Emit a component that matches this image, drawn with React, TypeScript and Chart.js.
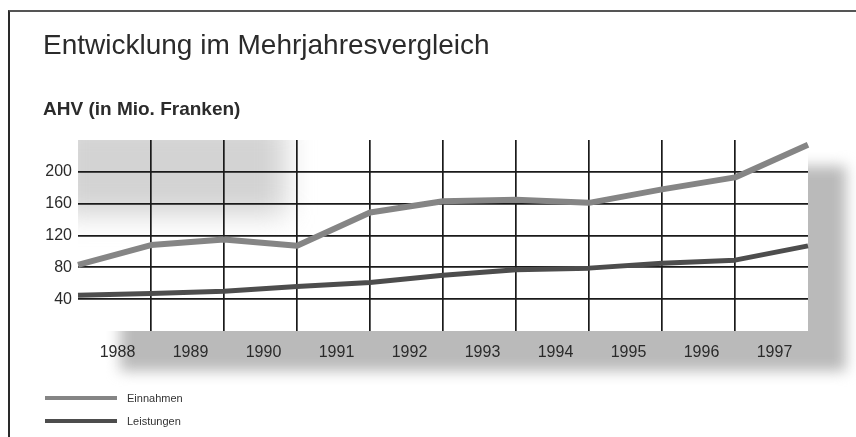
import React, { useEffect, useRef } from 'react';
import { Chart, registerables } from 'chart.js';

Chart.register(...registerables);

const chartTitle = 'Entwicklung im Mehrjahresvergleich';
const chartSubtitle = 'AHV (in Mio. Franken)';
const yearLabels = ['1988', '1989', '1990', '1991', '1992', '1993', '1994', '1995', '1996', '1997'];
const samplePoints = ['88', '89', '90', '91', '92', '93', '94', '95', '96', '97', '98'];
const seriesNames = ['Einnahmen', 'Leistungen'];
const einnahmen = [83, 108, 115, 107, 149, 163, 165, 161, 178, 193, 234];
const leistungen = [45, 47, 50, 56, 61, 70, 77, 79, 85, 89, 107];
const yTickValues = [40, 80, 120, 160, 200];
const yMin = 0;
const yMax = 240;
const seriesColors = ['#858585', '#4d4d4d'];
const seriesWidths = [6, 5];

const FONT = '"Liberation Sans", Arial, Helvetica, sans-serif';

const paperShadow = {
  id: 'paperShadow',
  beforeDraw(chart: any) {
    const { ctx, chartArea: a } = chart;
    ctx.save();
    ctx.filter = 'blur(7px)';
    ctx.fillStyle = '#bababa';
    ctx.fillRect(a.left + 42, a.top + 26, a.right - a.left - 4, a.bottom - a.top + 14);
    ctx.filter = 'none';
    ctx.fillStyle = '#ffffff';
    ctx.fillRect(a.left, a.top, a.right - a.left, a.bottom - a.top);
    ctx.beginPath();
    ctx.rect(a.left, a.top, a.right - a.left, a.bottom - a.top);
    ctx.clip();
    ctx.filter = 'blur(14px)';
    ctx.fillStyle = 'rgba(175,175,175,0.55)';
    ctx.fillRect(a.left - 20, a.top - 20, 228, 95);
    ctx.restore();
  },
};

export default function App() {
  const canvasRef = useRef<HTMLCanvasElement | null>(null);

  useEffect(() => {
    if (!canvasRef.current) return;
    const chart = new Chart(canvasRef.current, {
      type: 'line',
      data: {
        labels: samplePoints,
        datasets: [
          {
            label: seriesNames[0],
            data: einnahmen,
            borderColor: seriesColors[0],
            borderWidth: seriesWidths[0],
            pointRadius: 0,
            tension: 0,
            borderJoinStyle: 'round',
            xAxisID: 'x',
          },
          {
            label: seriesNames[1],
            data: leistungen,
            borderColor: seriesColors[1],
            borderWidth: seriesWidths[1],
            pointRadius: 0,
            tension: 0,
            borderJoinStyle: 'round',
            xAxisID: 'x',
          },
        ],
      },
      options: {
        responsive: false,
        animation: false,
        layout: { padding: { left: 8, right: 48, top: 140, bottom: 70 } },
        plugins: {
          legend: { display: false },
          tooltip: { enabled: false },
          title: { display: false },
        },
        scales: {
          x: {
            type: 'category',
            position: 'bottom',
            offset: false,
            border: { display: false },
            grid: {
              drawTicks: false,
              lineWidth: 1.7,
              color: (c: any) =>
                c.index === 0 || c.index === samplePoints.length - 1 ? 'rgba(0,0,0,0)' : '#1a1a1a',
            },
            ticks: { display: false },
            afterFit: (s: any) => {
              s.height = 0;
            },
          },
          x2: {
            type: 'category',
            labels: yearLabels,
            position: 'bottom',
            offset: true,
            border: { display: false },
            grid: { display: false, drawTicks: false },
            ticks: {
              color: '#2a2a2a',
              font: { family: FONT, size: 16 },
              padding: 12,
              labelOffset: 3,
              maxRotation: 0,
              autoSkip: false,
            },
            afterFit: (s: any) => {
              s.height = 36;
            },
          },
          y: {
            min: yMin,
            max: yMax,
            border: { display: false },
            grid: {
              drawTicks: false,
              lineWidth: 1.7,
              color: (c: any) =>
                yTickValues.includes(c.tick?.value) ? '#1a1a1a' : 'rgba(0,0,0,0)',
            },
            ticks: {
              stepSize: 40,
              padding: 6,
              color: '#2a2a2a',
              font: { family: FONT, size: 16 },
              callback: (v: any) => (yTickValues.includes(Number(v)) ? String(v) : ''),
            },
            afterFit: (s: any) => {
              s.width = 70;
            },
          },
        },
      },
      plugins: [paperShadow],
    } as any);
    return () => chart.destroy();
  }, []);

  return (
    <div
      style={{
        position: 'fixed',
        left: 0,
        top: 0,
        width: 856,
        height: 437,
        overflow: 'hidden',
        background: '#ffffff',
        fontFamily: FONT,
      }}
    >
      <div
        style={{
          position: 'absolute',
          left: 8,
          top: 10,
          width: 860,
          height: 440,
          borderLeft: '2px solid #2a2a2a',
          borderTop: '2px solid #555',
        }}
      />
      <canvas
        ref={canvasRef}
        width={856}
        height={437}
        style={{ position: 'absolute', left: 0, top: 0, width: 856, height: 437 }}
      />
      <div
        style={{
          position: 'absolute',
          left: 43,
          top: 31,
          fontSize: 28,
          lineHeight: '28px',
          color: '#2b2b2b',
          whiteSpace: 'nowrap',
        }}
      >
        {chartTitle}
      </div>
      <div
        style={{
          position: 'absolute',
          left: 43,
          top: 99,
          fontSize: 19,
          lineHeight: '19px',
          fontWeight: 'bold',
          color: '#2b2b2b',
          whiteSpace: 'nowrap',
        }}
      >
        {chartSubtitle}
      </div>
      {seriesNames.map((name, i) => (
        <div
          key={name}
          style={{
            position: 'absolute',
            left: 45,
            top: 388 + i * 23,
            height: 20,
            display: 'flex',
            alignItems: 'center',
          }}
        >
          <div style={{ width: 72, height: 4, background: seriesColors[i] }} />
          <span style={{ marginLeft: 10, fontSize: 11, color: '#333' }}>{name}</span>
        </div>
      ))}
    </div>
  );
}
